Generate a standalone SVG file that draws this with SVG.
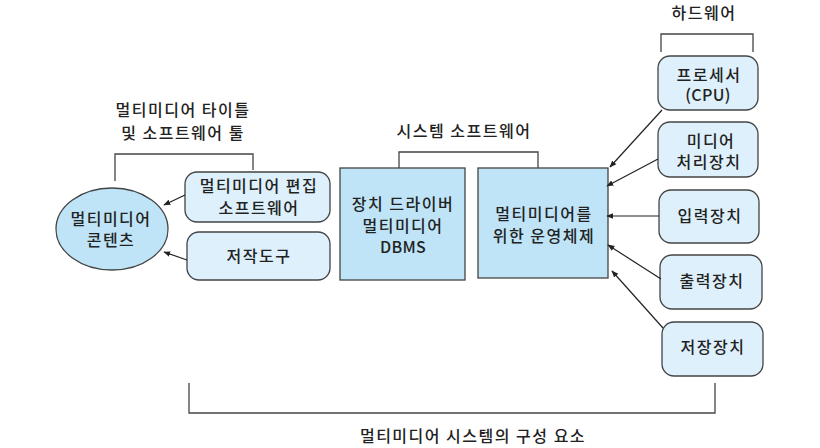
<svg xmlns="http://www.w3.org/2000/svg" width="820" height="448" viewBox="0 0 820 448">
<defs>
<marker id="ah" viewBox="0 0 10 10" refX="9" refY="5" markerWidth="7" markerHeight="7" orient="auto" markerUnits="userSpaceOnUse">
<path d="M0,1 L10,5 L0,9 z" fill="#222"/>
</marker>
<style>
text{font-family:"Noto Sans CJK KR","Liberation Sans",sans-serif;font-size:16px;font-weight:500;letter-spacing:1.5px;fill:#222;text-anchor:middle}
text.lat{letter-spacing:0.3px}
.rb{fill:#ddf0fb;stroke:#444;stroke-width:1.3}
.sb{fill:#bfe4f7;stroke:#444;stroke-width:1.3}
.br{fill:none;stroke:#444;stroke-width:1.3}
.ar{stroke:#222;stroke-width:1.2;fill:none;marker-end:url(#ah)}
</style>
</defs>
<rect width="820" height="448" fill="#fff"/>
<g id="brackets">
<path class="br" d="M115,181 V154 H253 V170"/>
<path class="br" d="M399,168 V152 H538 V168"/>
<path class="br" d="M661,52 V34 H753 V52"/>
<path class="br" d="M189,383 V413 H715 V383"/>
</g>
<g id="labels">
<text x="183" y="116">멀티미디어 타이틀</text>
<text x="183" y="139">및 소프트웨어 툴</text>
<text x="464" y="137">시스템 소프트웨어</text>
<text x="704" y="19">하드웨어</text>
<text x="473" y="442">멀티미디어 시스템의 구성 요소</text>
</g>
<g id="content">
<ellipse cx="112" cy="229" rx="56" ry="41" fill="#bfe4f7" stroke="#444" stroke-width="1.3"/>
<text x="111" y="225">멀티미디어</text>
<text x="111" y="246">콘텐츠</text>
</g>
<g id="edit">
<rect class="rb" x="185" y="172" width="145" height="50" rx="12"/>
<text x="259" y="192">멀티미디어 편집</text>
<text x="259" y="214">소프트웨어</text>
</g>
<g id="authoring">
<rect class="rb" x="187" y="232" width="143" height="48" rx="12"/>
<text x="259" y="262">저작도구</text>
</g>
<g id="driver">
<rect class="sb" x="340" y="168" width="125" height="112"/>
<text x="403" y="210">장치 드라이버</text>
<text x="403" y="232">멀티미디어</text>
<text class="lat" x="403" y="253">DBMS</text>
</g>
<g id="os">
<rect class="sb" x="478" y="168" width="130" height="110"/>
<text x="544" y="220">멀티미디어를</text>
<text x="544" y="242">위한 운영체제</text>
</g>
<g id="cpu">
<rect class="rb" x="658" y="56" width="100" height="54" rx="12"/>
<text x="709" y="81">프로세서</text>
<text class="lat" x="708" y="101">(CPU)</text>
</g>
<g id="media">
<rect class="rb" x="658" y="122" width="100" height="55" rx="12"/>
<text x="711" y="147">미디어</text>
<text x="709" y="168">처리장치</text>
</g>
<g id="input">
<rect class="rb" x="659" y="190" width="100" height="53" rx="12"/>
<text x="710" y="222">입력장치</text>
</g>
<g id="output">
<rect class="rb" x="660" y="255" width="102" height="54" rx="12"/>
<text x="712" y="287">출력장치</text>
</g>
<g id="storage">
<rect class="rb" x="662" y="322" width="101" height="54" rx="12"/>
<text x="713" y="353">저장장치</text>
</g>
<g id="connectors">
<line class="ar" x1="185" y1="195" x2="164" y2="205"/>
<line class="ar" x1="187" y1="260" x2="164" y2="252"/>
<line class="ar" x1="662" y1="110" x2="610" y2="167"/>
<line class="ar" x1="658" y1="159" x2="607" y2="186"/>
<line class="ar" x1="659" y1="216" x2="607" y2="216"/>
<line class="ar" x1="661" y1="279" x2="608" y2="245"/>
<line class="ar" x1="663" y1="328" x2="612" y2="271"/>
</g>
</svg>
